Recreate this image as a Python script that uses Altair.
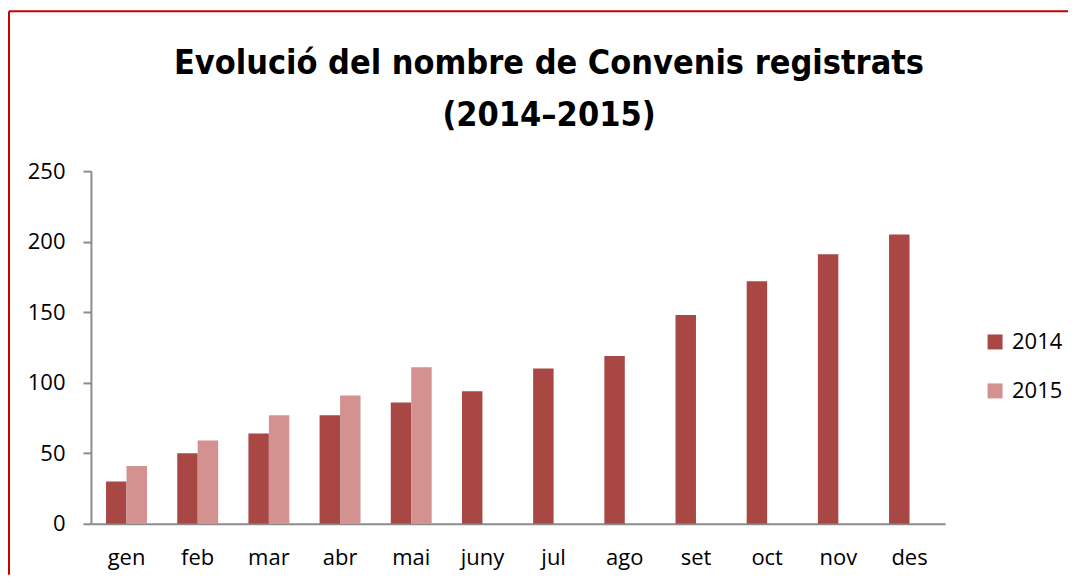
import altair as alt
import pandas as pd

months = ["gen", "feb", "mar", "abr", "mai", "juny", "jul", "ago", "set", "oct", "nov", "des"]
years = ["2014", "2015"]
values_2014 = [30, 50, 64, 77, 86, 94, 110, 119, 148, 172, 191, 205]
values_2015 = [41, 59, 77, 91, 111]
y_ticks = [0, 50, 100, 150, 200, 250]
title_lines = ["Evolució del nombre de Convenis registrats", "(2014–2015)"]

rows = []
for m, v in zip(months, values_2014):
    rows.append({"mes": m, "any": "2014", "n": v})
for m, v in zip(months, values_2015):
    rows.append({"mes": m, "any": "2015", "n": v})
df = pd.DataFrame(rows)

FONT = "Open Sans"
AXIS_GREY = "#8c8c8c"

bars = alt.Chart(df).mark_bar().encode(
    x=alt.X(
        "mes:N",
        sort=months,
        scale=alt.Scale(paddingInner=0.425, paddingOuter=0.2125),
        axis=alt.Axis(
            title=None, labelAngle=0, ticks=False, labelPadding=24,
            labelFontSize=22, labelFont=FONT, labelColor="#000",
            domainColor=AXIS_GREY, domainWidth=2,
        ),
    ),
    xOffset=alt.XOffset("any:N", scale=alt.Scale(domain=years)),
    y=alt.Y(
        "n:Q",
        scale=alt.Scale(domain=[0, 250], nice=False),
        axis=alt.Axis(
            title=None, values=y_ticks, grid=False, tickSize=8, tickWidth=2,
            tickColor=AXIS_GREY, domainColor=AXIS_GREY, domainWidth=2,
            labelPadding=18, labelFontSize=22, labelFont=FONT, labelColor="#000",
        ),
    ),
    color=alt.Color(
        "any:N",
        scale=alt.Scale(domain=years, range=["#a94745", "#d39190"]),
        legend=alt.Legend(
            title=None, orient="none", legendX=894, legendY=160,
            symbolType="square", symbolSize=225, symbolStrokeWidth=0,
            labelFontSize=22, labelFont=FONT, labelColor="#000",
            rowPadding=27, labelOffset=6,
        ),
    ),
)

frame_src = pd.DataFrame({"k": [0]})
left_border = alt.Chart(frame_src).mark_rule(color="#cc0000", strokeWidth=2).encode(
    x=alt.value(-82), y=alt.value(-160), y2=alt.value(404)
)
top_border = alt.Chart(frame_src).mark_rule(color="#cc0000", strokeWidth=2).encode(
    x=alt.value(-82), x2=alt.value(978), y=alt.value(-160)
)

chart = alt.layer(bars, left_border, top_border).properties(
    width=855,
    height=353,
    padding={"left": 0, "top": 2, "right": 0, "bottom": 0},
    title=alt.Title(
        title_lines, fontSize=34, font="DejaVu Sans Condensed, Roboto", fontWeight="bold",
        anchor="middle", frame="group", dx=31, offset=-123, lineHeight=52, color="#000",
    ),
).configure_view(stroke=None)

chart.save("out.html", embed_options={"renderer": "svg", "actions": False})
